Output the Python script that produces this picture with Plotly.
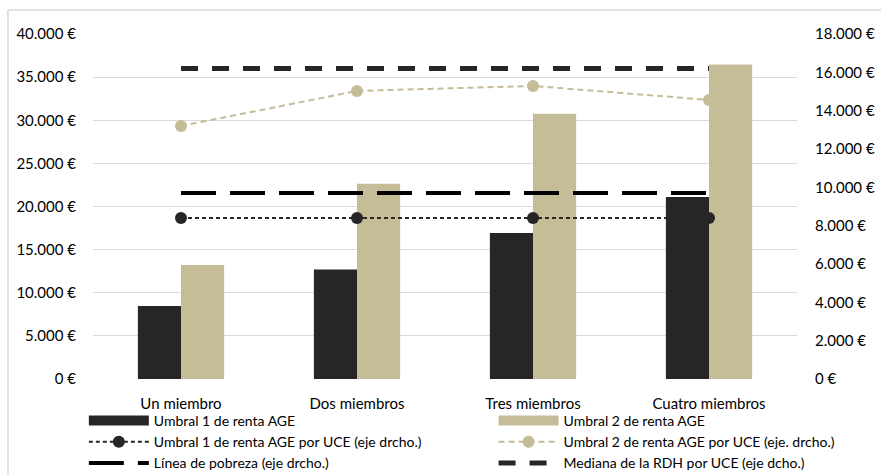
import plotly.graph_objects as go

# Household sizes
categorias = ["Un miembro", "Dos miembros", "Tres miembros", "Cuatro miembros"]

# Income thresholds per household (left axis)
umbral1_renta = [8470, 12700, 16930, 21100]
umbral2_renta = [13230, 22650, 30750, 36450]

# Thresholds per consumption unit (right axis)
umbral1_uce = [8400, 8400, 8400, 8400]
umbral2_uce = [13200, 15030, 15290, 14560]
linea_pobreza = [9700, 9700, 9700, 9700]
mediana_rdh = [16200, 16200, 16200, 16200]

NEGRO = "#262626"
BEIGE = "#C4BD97"
BORDE = "#D9D9D9"
FUENTE = "Lato"

fig = go.Figure()


def barra(valores, nombre, color, leyenda):
    # Bars themselves, plus a wide swatch as their legend key
    fig.add_trace(go.Bar(x=categorias, y=valores, name=nombre, legendgroup=nombre,
                         showlegend=False, marker=dict(color=color, line=dict(width=0))))
    fig.add_trace(go.Scatter(x=[None], y=[None], mode="lines", name=nombre,
                             legendgroup=nombre, legend=leyenda,
                             line=dict(color=color, width=10)))


barra(umbral1_renta, "Umbral 1 de renta AGE", NEGRO, "legend")
barra(umbral2_renta, "Umbral 2 de renta AGE", BEIGE, "legend2")

fig.add_trace(go.Scatter(x=categorias, y=umbral1_uce, yaxis="y2", mode="lines+markers",
                         name="Umbral 1 de renta AGE por UCE (eje drcho.)",
                         line=dict(color=NEGRO, width=2, dash="4px,3px"),
                         marker=dict(color=NEGRO, size=12), legend="legend"))
fig.add_trace(go.Scatter(x=categorias, y=umbral2_uce, yaxis="y2", mode="lines+markers",
                         name="Umbral 2 de renta AGE por UCE (eje. drcho.)",
                         line=dict(color=BEIGE, width=2, dash="6px,4px"),
                         marker=dict(color=BEIGE, size=12), legend="legend2"))
fig.add_trace(go.Scatter(x=categorias, y=linea_pobreza, yaxis="y2", mode="lines",
                         name="Línea de pobreza (eje drcho.)",
                         line=dict(color="#000000", width=4, dash="35px,14px"),
                         legend="legend"))
fig.add_trace(go.Scatter(x=categorias, y=mediana_rdh, yaxis="y2", mode="lines",
                         name="Mediana de la RDH por UCE (eje dcho.)",
                         line=dict(color=NEGRO, width=5, dash="17px,14px"),
                         legend="legend2"))

leyenda = dict(orientation="v", y=-0.075, yanchor="top", xanchor="left",
               tracegroupgap=0, font=dict(family=FUENTE, size=14), itemwidth=60,
               bgcolor="rgba(0,0,0,0)", traceorder="normal")

# Outer frame: left and top edges (the others fall outside the page)
marco = [
    dict(type="line", xref="paper", yref="paper",
         x0=(8 - 93) / 704, x1=(8 - 93) / 704, y0=(379 - 480) / 345, y1=(379 - 10) / 345,
         line=dict(color=BORDE, width=1.5)),
    dict(type="line", xref="paper", yref="paper",
         x0=(8 - 93) / 704, x1=(885 - 93) / 704, y0=(379 - 10) / 345, y1=(379 - 10) / 345,
         line=dict(color=BORDE, width=1.5)),
]

fig.update_layout(
    width=881, height=475,
    margin=dict(l=93, r=84, t=34, b=96, autoexpand=False),
    paper_bgcolor="white", plot_bgcolor="white",
    separators=",.",
    font=dict(family=FUENTE, size=15, color="#000000"),
    barmode="group", bargap=0.51, bargroupgap=0,
    xaxis=dict(showgrid=False, showline=False, ticks="", ticklabelstandoff=14,
               tickfont=dict(size=15)),
    yaxis=dict(range=[0, 40000], dtick=5000, tickformat=",.0f", ticksuffix=" €",
               showgrid=True, gridcolor=BORDE, gridwidth=1, zeroline=False,
               showline=False, ticks="", ticklabelstandoff=16),
    yaxis2=dict(range=[0, 18000], dtick=2000, tickformat=",.0f", ticksuffix=" €",
                overlaying="y", side="right", showgrid=False, zeroline=False,
                showline=False, ticks="", ticklabelstandoff=17),
    legend=dict(leyenda, x=-0.013),
    legend2=dict(leyenda, x=0.569),
    showlegend=True,
    shapes=marco,
)

fig.write_html("out.html")
